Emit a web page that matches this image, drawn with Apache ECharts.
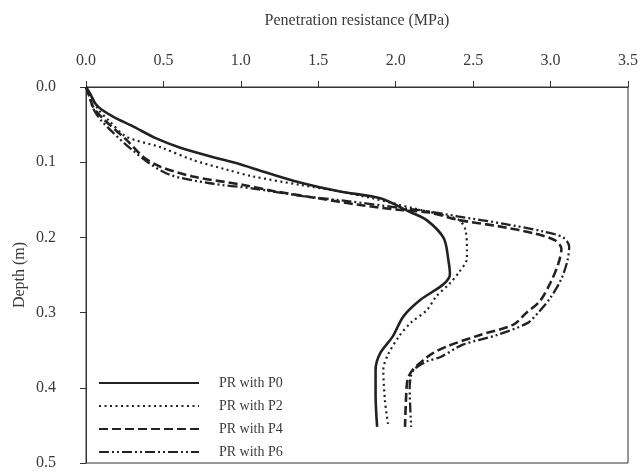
<!DOCTYPE html>
<html>
<head>
<meta charset="utf-8">
<script src="https://cdn.jsdelivr.net/npm/echarts@6/dist/echarts.min.js"></script>
<style>
  html, body { margin: 0; padding: 0; background: #fff; }
  #chart { width: 643px; height: 472px; }
</style>
</head>
<body>
<div id="chart"></div>
<script>
// [penetration resistance (MPa), depth (m)]
const p0 = [[0,0],[0.03,0.01],[0.06,0.022],[0.1,0.03],[0.18,0.04],[0.3,0.052],[0.45,0.068],[0.6,0.08],[0.8,0.092],[1.0,0.103],[1.2,0.116],[1.4,0.128],[1.64,0.139],[1.9,0.148],[2.09,0.166],[2.2,0.177],[2.31,0.201],[2.34,0.23],[2.35,0.249],[2.31,0.262],[2.16,0.283],[2.05,0.305],[1.98,0.332],[1.9,0.354],[1.87,0.376],[1.87,0.41],[1.88,0.452]];
const p2 = [[0,0],[0.04,0.015],[0.08,0.03],[0.15,0.045],[0.26,0.066],[0.48,0.08],[0.69,0.097],[0.91,0.11],[1.08,0.119],[1.38,0.13],[1.64,0.139],[1.85,0.148],[2.11,0.161],[2.3,0.17],[2.41,0.177],[2.45,0.19],[2.46,0.217],[2.46,0.228],[2.41,0.246],[2.35,0.261],[2.26,0.279],[2.2,0.297],[2.1,0.313],[2.02,0.332],[1.95,0.356],[1.92,0.376],[1.93,0.416],[1.95,0.448]];
const p4 = [[0,0],[0.02,0.01],[0.045,0.026],[0.11,0.042],[0.26,0.07],[0.37,0.093],[0.48,0.106],[0.69,0.119],[1.01,0.13],[1.2,0.138],[1.5,0.148],[1.77,0.157],[2.05,0.164],[2.22,0.167],[2.41,0.177],[2.66,0.185],[2.9,0.195],[3.03,0.204],[3.07,0.215],[3.05,0.235],[3.0,0.26],[2.93,0.285],[2.84,0.301],[2.76,0.316],[2.54,0.33],[2.33,0.345],[2.24,0.354],[2.18,0.363],[2.11,0.376],[2.08,0.387],[2.07,0.4],[2.06,0.452]];
const p6 = [[0,0],[0.02,0.012],[0.045,0.028],[0.1,0.045],[0.3,0.084],[0.52,0.115],[0.8,0.128],[1.08,0.135],[1.4,0.145],[1.7,0.152],[2.0,0.16],[2.2,0.165],[2.4,0.172],[2.7,0.182],[2.95,0.192],[3.08,0.2],[3.12,0.212],[3.11,0.23],[3.07,0.255],[3.0,0.28],[2.92,0.3],[2.85,0.314],[2.65,0.33],[2.43,0.343],[2.29,0.359],[2.2,0.365],[2.12,0.375],[2.1,0.383],[2.09,0.4],[2.1,0.452]];

const seriesNames = ['PR with P0', 'PR with P2', 'PR with P4', 'PR with P6'];
const seriesData = [p0, p2, p4, p6];
const dashTypes = ['solid', [2, 3.5], [9, 4], [10, 3, 2, 3, 2, 3]];
const widths = [2.6, 2.2, 2.6, 2.3];

const font = 'Liberation Serif';
const textColor = '#3a3a3a';

const chart = echarts.init(document.getElementById('chart'), null, { renderer: 'canvas' });

chart.setOption({
  animation: false,
  backgroundColor: '#fff',
  grid: {
    left: 86, right: 15, top: 87, bottom: 9,
    outerBoundsMode: 'none',
    show: true, borderColor: '#333', borderWidth: 1
  },
  legend: {
    orient: 'vertical',
    left: 93, top: 371,
    itemWidth: 100, itemHeight: 14, itemGap: 9,
    data: seriesNames,
    itemStyle: { color: 'transparent', borderColor: 'transparent', borderWidth: 0 },
    textStyle: { fontFamily: font, fontSize: 14, color: textColor, padding: [0, 0, 0, 15] }
  },
  xAxis: {
    type: 'value', position: 'top',
    min: 0, max: 3.5, interval: 0.5,
    name: 'Penetration resistance (MPa)',
    nameLocation: 'middle', nameGap: 58, nameMoveOverlap: false,
    nameTextStyle: { fontFamily: font, fontSize: 16, color: textColor },
    axisLine: { show: true, lineStyle: { color: '#333' } },
    axisTick: { show: true, length: 6, lineStyle: { color: '#333' } },
    axisLabel: { fontFamily: font, fontSize: 16, color: textColor, margin: 18, formatter: v => v.toFixed(1) },
    splitLine: { show: false }
  },
  yAxis: {
    type: 'value', inverse: true,
    min: 0, max: 0.5, interval: 0.1,
    name: 'Depth (m)',
    nameLocation: 'middle', nameGap: 58, nameRotate: 90, nameMoveOverlap: false,
    nameTextStyle: { fontFamily: font, fontSize: 16, color: textColor },
    axisLine: { show: true, lineStyle: { color: '#333' } },
    axisTick: { show: true, length: 6, lineStyle: { color: '#333' } },
    axisLabel: { fontFamily: font, fontSize: 16, color: textColor, margin: 30, formatter: v => v.toFixed(1) },
    splitLine: { show: false }
  },
  series: seriesNames.map((name, i) => ({
    name: name,
    type: 'line',
    data: seriesData[i],
    smooth: 0.3,
    symbol: 'none',
    itemStyle: { color: '#222' },
    lineStyle: { color: '#222', width: widths[i], type: dashTypes[i] }
  }))
});
</script>
</body>
</html>
